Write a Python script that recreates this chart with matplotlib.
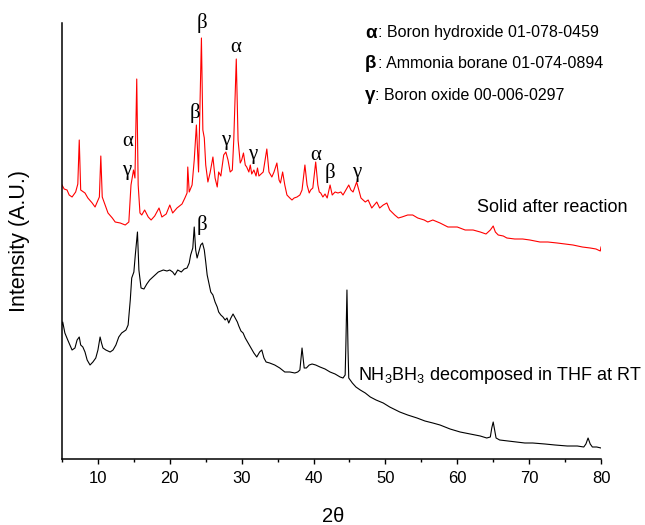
import matplotlib
matplotlib.use("Agg")
import matplotlib.pyplot as plt
import numpy as np

plt.rcParams['font.family'] = ['Liberation Sans', 'DejaVu Sans']
plt.rcParams['mathtext.fontset'] = 'custom'
plt.rcParams['mathtext.rm'] = 'Liberation Sans'
plt.rcParams['mathtext.it'] = 'Liberation Sans:italic'
plt.rcParams['mathtext.bf'] = 'Liberation Sans:bold'

# ---- data: red trace "Solid after reaction" (2theta, intensity a.u.) ----
solid_2theta = [5.0, 5.3, 5.7, 6.0, 6.4, 6.9, 7.2, 7.4, 7.6, 8.2, 8.6, 9.2, 9.6, 10.2, 10.4, 10.6, 11.4, 12.0, 12.4,
                13.1, 13.8, 14.3, 14.6, 14.95, 15.15, 15.4, 15.6, 15.85, 16.1, 16.5, 17.0, 17.4,
                17.9, 18.5, 18.9, 19.5, 20.0, 20.4, 21.0, 21.7, 22.1, 22.4, 22.5, 22.7, 23.1,
                23.4, 23.7, 24.0, 24.4, 24.6, 24.8, 25.0, 25.3, 25.6, 26.0, 26.3, 26.6, 26.8,
                27.1, 27.5, 27.8, 28.1, 28.4, 28.7, 28.9, 29.25, 29.5, 29.8, 30.0, 30.25, 30.5,
                30.7, 31.0, 31.2, 31.4, 31.7, 32.0, 32.2, 32.4, 32.7, 33.0, 33.5, 33.8, 34.2,
                34.5, 34.9, 35.2, 35.4, 35.7, 36.0, 36.3, 36.7, 37.0, 37.3, 37.7, 38.1, 38.4,
                38.8, 39.1, 39.4, 39.6, 39.9, 40.3, 40.6, 40.8, 41.0, 41.3, 41.6, 41.9, 42.3,
                42.6, 43.0, 43.4, 43.8, 44.1, 44.5, 44.9, 45.2, 45.5, 46.0, 46.3, 46.6, 47.2,
                47.6, 48.1, 48.8, 49.2, 49.7, 50.2, 50.6, 51.3, 51.8, 52.3, 53.1, 53.8, 54.5,
                55.4, 55.9, 56.6, 57.6, 58.7, 60.0, 61.1, 62.2, 63.2, 64.0, 64.6, 65.0, 65.3,
                65.7, 66.4, 66.9, 68.0, 69.1, 70.1, 71.5, 72.6, 73.9, 75.0, 76.1, 77.4, 78.5,
                79.3, 79.9, 80.0]
solid_intensity = [274, 270, 269, 264, 262, 267, 275, 319, 269, 266, 261, 256, 252, 262, 303, 262, 246, 241, 237,
                   236, 234, 237, 274, 289, 281, 380, 274, 246, 244, 249, 242, 239,
                   243, 251, 242, 245, 254, 246, 251, 255, 261, 266, 292, 267, 274,
                   299, 334, 287, 421, 329, 321, 294, 277, 286, 302, 281, 272, 287,
                   283, 304, 307, 299, 287, 289, 319, 400, 319, 296, 299, 306, 294,
                   292, 287, 294, 285, 289, 283, 291, 283, 285, 287, 310, 287, 282,
                   287, 296, 279, 276, 287, 274, 264, 261, 259, 261, 262, 264, 269,
                   294, 274, 266, 269, 271, 297, 274, 267, 266, 262, 265, 261, 274,
                   264, 267, 266, 267, 264, 269, 274, 269, 267, 277, 269, 261, 257,
                   259, 251, 257, 251, 254, 256, 249, 244, 241, 242, 244, 244, 241,
                   239, 237, 239, 236, 232, 232, 229, 229, 227, 225, 229, 233, 227,
                   224, 223, 221, 220, 220, 219, 217, 217, 216, 215, 214, 212, 211,
                   210, 208, 212]

# ---- data: black trace "NH3BH3 decomposed in THF at RT" ----
thf_2theta = [5.0, 5.1, 5.4, 5.8, 6.4, 6.8, 7.1, 7.4, 7.6, 7.9, 8.2, 8.5, 8.9, 9.3, 9.7, 10.0,
              10.3, 10.5, 10.7, 11.1, 11.7, 12.1, 12.5, 12.9, 13.3, 13.9, 14.2, 14.5, 14.7,
              15.0, 15.2, 15.5, 15.7, 16.0, 16.4, 16.8, 17.2, 17.8, 18.4, 19.1, 19.6, 20.0,
              20.4, 20.7, 21.1, 21.6, 22.0, 22.4, 22.7, 22.9, 23.2, 23.4, 23.6, 23.8, 24.1,
              24.3, 24.55, 24.8, 25.0, 25.2, 25.5, 25.7, 26.0, 26.3, 26.6, 26.8, 27.1, 27.4,
              27.7, 27.96, 28.2, 28.5, 28.8, 29.1, 29.4, 29.6, 29.9, 30.2, 30.5, 30.9, 31.3,
              31.7, 32.1, 32.5, 32.8, 33.1, 33.4, 33.9, 34.6, 35.3, 36.0, 36.7, 37.4, 37.8,
              38.1, 38.4, 38.7, 39.0, 39.4, 39.8, 40.3, 40.9, 41.6, 42.3, 43.0, 43.7, 44.1,
              44.4, 44.5, 44.65, 44.8, 44.9, 45.4, 45.9, 46.5, 47.2, 47.9, 48.7, 49.7, 50.6,
              52.0, 53.1, 54.4, 55.5, 56.6, 57.6, 59.0, 60.4, 61.8, 63.2, 64.1, 64.6, 64.8,
              65.0, 65.2, 65.4, 65.9, 67.1, 68.3, 69.4, 70.5, 72.2, 73.6, 75.3, 76.7, 77.6,
              77.9, 78.2, 78.5, 78.8, 79.4, 80.0]
thf_intensity = [134, 137, 126, 119, 109, 111, 119, 122, 114, 112, 107, 99, 94, 97, 101, 109,
                 122, 116, 111, 109, 107, 109, 114, 122, 126, 129, 134, 159, 181,
                 187, 204, 227, 189, 171, 170, 175, 179, 183, 187, 189, 188, 189,
                 187, 184, 189, 187, 190, 191, 196, 204, 211, 232, 209, 201, 209,
                 214, 216, 209, 197, 184, 174, 167, 164, 157, 152, 147, 144, 142,
                 139, 141, 136, 141, 145, 141, 137, 133, 128, 126, 121, 116, 111,
                 106, 102, 107, 109, 101, 97, 96, 94, 91, 87, 87, 86, 87,
                 89, 111, 91, 91, 94, 95, 94, 92, 90, 87, 85, 82, 81,
                 84, 114, 169, 109, 81, 76, 72, 69, 66, 62, 59, 56, 52,
                 47, 44, 41, 38, 36, 34, 30, 27, 25, 23, 21, 22, 31,
                 37, 29, 21, 19, 18, 17, 16, 16, 15, 14, 13, 13, 12,
                 15, 21, 15, 12, 12, 11]

xticks_major = [10, 20, 30, 40, 50, 60, 70, 80]
phase_legend = [("\u03b1", ": Boron hydroxide 01-078-0459"),
                ("\u03b2", ": Ammonia borane 01-074-0894"),
                ("\u03b3", ": Boron oxide 00-006-0297")]
# peak markers (symbol, 2theta, label height)
peak_labels = [("\u03b3", 14.0, 289), ("\u03b1", 14.2, 317), ("\u03b2", 23.5, 346),
               ("\u03b2", 24.45, 436), ("\u03b1", 29.2, 412), ("\u03b3", 27.8, 319),
               ("\u03b3", 31.6, 304), ("\u03b1", 40.3, 304), ("\u03b2", 42.3, 286),
               ("\u03b3", 46.05, 287)]
thf_peak_labels = [("\u03b2", 24.45, 234)]

fig = plt.figure(figsize=(6.45, 5.25), dpi=100)
ax = fig.add_axes([62/645, 1-459/525, 539/645, 436/525])

ax.plot(thf_2theta, thf_intensity, color='black', lw=0.8)
ax.plot(solid_2theta, solid_intensity, color='#ff0000', lw=0.8)

ax.set_xlim(5, 80)
ax.set_ylim(0, 436)
for s in ['top', 'right']:
    ax.spines[s].set_visible(False)
for s in ['left', 'bottom']:
    ax.spines[s].set_linewidth(1.1)
ax.set_yticks([])
ax.set_xticks(xticks_major)
ax.set_xticks([5, 15, 25, 35, 45, 55, 65, 75], minor=True)
ax.tick_params(axis='x', which='major', length=3.5, width=1.0, direction='out', labelsize=12, pad=5)
ax.tick_params(axis='x', which='minor', length=2.5, width=1.0, direction='out')

ax.set_xlabel("2\u03b8", fontsize=14.5)
ax.xaxis.label.set_verticalalignment('center')
ax.xaxis.set_label_coords(0.503, -0.133)
ax.set_ylabel("Intensity (A.U.)", fontsize=15.5)
ax.yaxis.label.set_verticalalignment('center')
ax.yaxis.set_label_coords(-0.078, 0.50)

# legend-like text
leg_y = [426, 395, 364]
leg_colon_x = [48.97, 48.97, 48.55]
for (g, txt), yy, cx in zip(phase_legend, leg_y, leg_colon_x):
    ax.text(47.16, yy, g, fontsize=13.5, fontweight='bold', ha='left', va='center')
    ax.text(cx, yy, txt, fontsize=11.5, ha='left', va='center')

ax.text(62.75, 251, "Solid after reaction", fontsize=13, ha='left', va='center')
ax.text(46.2, 84, r"NH$_3$BH$_3$ decomposed in THF at RT", fontsize=13, ha='left', va='center')

for g, xx, yy in peak_labels + thf_peak_labels:
    ax.text(xx, yy, g, fontsize=15, family='Liberation Serif', ha='center', va='center')

fig.savefig("out.png", dpi=100)
